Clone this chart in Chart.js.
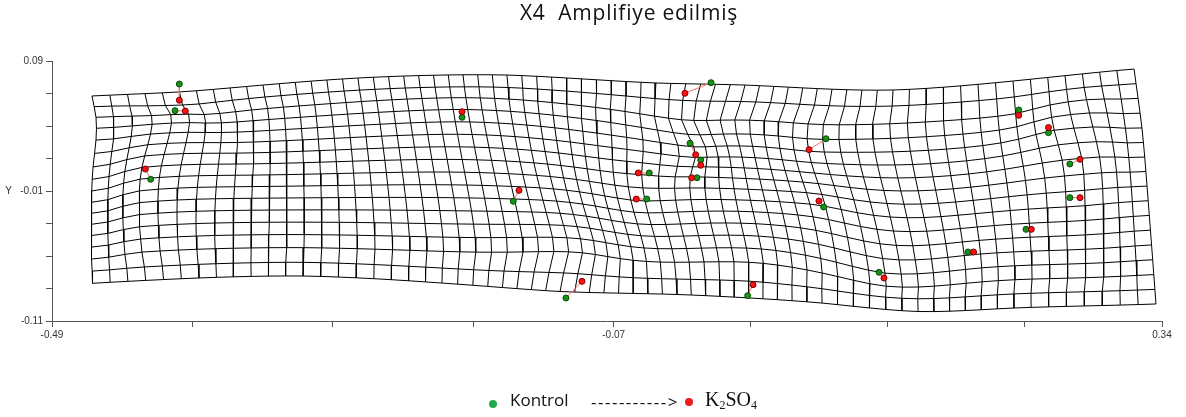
<!DOCTYPE html>
<html><head><meta charset="utf-8">
<script src="https://cdn.jsdelivr.net/npm/chart.js@4.4.1/dist/chart.umd.min.js"></script>
<style>
html,body{margin:0;padding:0;background:#fff;}
#wrap{position:relative;width:1186px;height:417px;overflow:hidden;background:#fff;}
#c{position:absolute;left:0;top:0;}
.t{position:absolute;white-space:pre;line-height:1;}
.dot{position:absolute;width:8px;height:8px;border-radius:50%;}
.sub{font-size:12px;position:relative;top:3px;}
</style></head><body>
<div id="wrap">
<canvas id="c" width="1186" height="417"></canvas>
<div class="t" style="left:629px;top:1.5px;transform:translateX(-50%);font-family:'Open Sans';font-size:21px;letter-spacing:0.8px;color:#111;">X4  Amplifiye edilmiş</div>
<div class="dot" style="left:489px;top:400px;background:#22a84a;"></div>
<div class="t" style="left:510px;top:391px;font-family:'Open Sans';font-size:17px;color:#111;">Kontrol</div>
<div class="t" style="left:591px;top:393px;font-family:'Open Sans';font-size:17px;letter-spacing:1.5px;color:#111;">-----------&gt;</div>
<div class="dot" style="left:685px;top:398px;background:#ee1c1c;"></div>
<div class="t" style="left:705px;top:389px;font-family:'Liberation Serif';font-size:20px;color:#111;">K<span class="sub">2</span>SO<span class="sub">4</span></div>
</div>
<script>
// ---- axis ticks ----
const xTickValues = [-0.49, -0.385, -0.28, -0.175, -0.07, 0.0325, 0.135, 0.2375, 0.34];
const xTickLabels = ['-0.49', '', '', '', '-0.07', '', '', '', '0.34'];
const yTickValues = [0.09, 0.065, 0.04, 0.015, -0.01, -0.035, -0.06, -0.085, -0.11];
const yTickLabels = ['0.09', '', '', '', 'Y   -0.01', '', '', '', '-0.11'];

// ---- landmarks (Kontrol -> K2SO4) ----
const kontrolX = [-0.3948, -0.3980, -0.4162, -0.1834, -0.1451, -0.1057, 0.0028, -0.0129, -0.0049, -0.0077, -0.0434, -0.0453, 0.0888, 0.0870, 0.1284, 0.0302, 0.2329, 0.2551, 0.2711, 0.2711, 0.2383, 0.1949];
const kontrolY = [0.0723, 0.0518, -0.0010, 0.0467, -0.0179, -0.0923, 0.0733, 0.0267, 0.0138, 0.0002, 0.0039, -0.0162, 0.0302, -0.0223, -0.0725, -0.0905, 0.0523, 0.0349, 0.0108, -0.0151, -0.0395, -0.0569];
const k2so4X = [-0.3948, -0.3903, -0.4202, -0.1834, -0.1408, -0.0937, -0.0167, -0.0087, -0.0049, -0.0117, -0.0516, -0.0531, 0.0761, 0.0835, 0.1321, 0.0342, 0.2329, 0.2551, 0.2787, 0.2787, 0.2423, 0.1991];
const k2so4Y = [0.0598, 0.0515, 0.0069, 0.0510, -0.0095, -0.0795, 0.0652, 0.0179, 0.0098, 0.0002, 0.0039, -0.0162, 0.0218, -0.0177, -0.0769, -0.0821, 0.0482, 0.0388, 0.0144, -0.0151, -0.0395, -0.0569];

// ---- deformation grid outline (data units) ----
const gridCols = 66, gridRows = 16;
const topEdgeCol = [0, 5, 10, 16, 26, 36, 42, 52, 59, 66];
const topEdgeX = [-0.4601, -0.3947, -0.3322, -0.2612, -0.1498, -0.0384, 0.0282, 0.1389, 0.2286, 0.3191];
const topEdgeY = [0.0631, 0.0662, 0.0715, 0.0769, 0.0792, 0.0731, 0.0715, 0.0677, 0.0746, 0.0838];
const bottomEdgeCol = [0, 6, 12, 20, 28, 36, 46, 52, 58, 66];
const bottomEdgeX = [-0.4597, -0.3801, -0.3023, -0.1984, -0.1101, -0.0227, 0.0858, 0.1576, 0.2293, 0.3355];
const bottomEdgeY = [-0.0810, -0.0769, -0.0754, -0.0808, -0.0873, -0.0896, -0.0962, -0.1027, -0.1000, -0.0969];
const leftEdgeRow = [2, 4, 6, 9, 12];
const leftEdgeX = [-0.4571, -0.4571, -0.4593, -0.4605, -0.4605];
const leftEdgeY = [0.0467, 0.0292, 0.0085, -0.0187, -0.0442];
const rightEdgeRow = [4, 8, 12];
const rightEdgeX = [0.3250, 0.3288, 0.3322];
const rightEdgeY = [0.0385, -0.0062, -0.0515];
const amplification = 0.8;

// ---- thin-plate spline helpers ----
function solve(A, B) {
  const m = A.length, k = B.length;
  const M = A.map((row, i) => [...row, ...B.map(col => col[i])]);
  for (let c = 0; c < m; c++) {
    let piv = c;
    for (let r = c + 1; r < m; r++) if (Math.abs(M[r][c]) > Math.abs(M[piv][c])) piv = r;
    const tmp = M[c]; M[c] = M[piv]; M[piv] = tmp;
    const d = M[c][c];
    for (let r = 0; r < m; r++) {
      if (r === c) continue;
      const f = M[r][c] / d;
      if (f === 0) continue;
      for (let q = c; q < m + k; q++) M[r][q] -= f * M[c][q];
    }
  }
  return B.map((_, t) => M.map((row, i) => row[m + t] / row[i]));
}
function kern(dx, dy) { const r2 = dx * dx + dy * dy; return r2 > 1e-24 ? 0.5 * r2 * Math.log(r2) : 0; }
function makeTps(sx, sy, fields) {
  const n = sx.length, m = n + 3, A = [];
  for (let i = 0; i < n; i++) {
    const row = new Array(m).fill(0);
    for (let j = 0; j < n; j++) row[j] = kern(sx[i] - sx[j], sy[i] - sy[j]);
    row[n] = 1; row[n + 1] = sx[i]; row[n + 2] = sy[i];
    A.push(row);
  }
  for (let t = 0; t < 3; t++) {
    const row = new Array(m).fill(0);
    for (let j = 0; j < n; j++) row[j] = t === 0 ? 1 : (t === 1 ? sx[j] : sy[j]);
    A.push(row);
  }
  const sol = solve(A, fields.map(f => [...f, 0, 0, 0]));
  return (x, y) => sol.map(w => {
    let s = w[n] + w[n + 1] * x + w[n + 2] * y;
    for (let j = 0; j < n; j++) s += w[j] * kern(x - sx[j], y - sy[j]);
    return s;
  });
}

// base (outline) mapping: grid index -> data
const CU = 16, CV = 13;
const bu = [], bv = [], bx = [], by = [];
topEdgeCol.forEach((c, i) => { bu.push(c * CU); bv.push(0); bx.push(topEdgeX[i]); by.push(topEdgeY[i]); });
bottomEdgeCol.forEach((c, i) => { bu.push(c * CU); bv.push(gridRows * CV); bx.push(bottomEdgeX[i]); by.push(bottomEdgeY[i]); });
leftEdgeRow.forEach((r, i) => { bu.push(0); bv.push(r * CV); bx.push(leftEdgeX[i]); by.push(leftEdgeY[i]); });
rightEdgeRow.forEach((r, i) => { bu.push(gridCols * CU); bv.push(r * CV); bx.push(rightEdgeX[i]); by.push(rightEdgeY[i]); });
const baseT = makeTps(bu, bv, [bx, by]);
const base = (u, v) => baseT(u * CU, v * CV);

// landmark displacement field (zero far outside the outline)
const dsx = [], dsy = [], ddx = [], ddy = [];
kontrolX.forEach((x, i) => { dsx.push(x); dsy.push(kontrolY[i]); ddx.push(k2so4X[i] - x); ddy.push(k2so4Y[i] - kontrolY[i]); });
for (let c = -6; c <= gridCols + 6; c += 6) for (const r of [-3, gridRows + 3]) { const p = base(c, r); dsx.push(p[0]); dsy.push(p[1]); ddx.push(0); ddy.push(0); }
for (let r = 1; r < gridRows; r += 4) for (const c of [-5, gridCols + 5]) { const p = base(c, r); dsx.push(p[0]); dsy.push(p[1]); ddx.push(0); ddy.push(0); }
const disp = makeTps(dsx, dsy, [ddx, ddy]);

// keep the outline as read: fade the landmark field out towards the border
const ease = t => t >= 1 ? 1 : (t <= 0 ? 0 : t * t * (3 - 2 * t));
const fade = (u, v) => ease(u / 3) * ease((gridCols - u) / 3) * ease(v / 2.5) * ease((gridRows - v) / 2.5);

const nodes = [];
for (let j = 0; j <= gridRows; j++) {
  const row = [];
  for (let i = 0; i <= gridCols; i++) {
    const p = base(i, j), d = disp(p[0], p[1]), w = amplification * fade(i, j);
    row.push({ x: p[0] + w * d[0], y: p[1] + w * d[1] });
  }
  nodes.push(row);
}

const datasets = [];
const gridStyle = { showLine: true, pointRadius: 0, borderColor: '#000', borderWidth: 1, tension: 0, order: 5, fill: false };
for (let j = 0; j <= gridRows; j++) datasets.push({ ...gridStyle, data: nodes[j] });
for (let i = 0; i <= gridCols; i++) datasets.push({ ...gridStyle, data: nodes.map(r => r[i]) });
kontrolX.forEach((x, i) => datasets.push({ showLine: true, pointRadius: 0, borderColor: '#ff6b6b', borderWidth: 1, order: 3,
  data: [{ x: x, y: kontrolY[i] }, { x: k2so4X[i], y: k2so4Y[i] }] }));
datasets.push({ label: 'Kontrol', showLine: false, pointRadius: 3, pointBackgroundColor: '#149414', pointBorderColor: '#0a4a0a', pointBorderWidth: 1, order: 2,
  data: kontrolX.map((x, i) => ({ x: x, y: kontrolY[i] })) });
datasets.push({ label: 'K2SO4', showLine: false, pointRadius: 3, pointBackgroundColor: '#ff1010', pointBorderColor: '#7a0000', pointBorderWidth: 1, order: 1,
  data: k2so4X.map((x, i) => ({ x: x, y: k2so4Y[i] })) });

const tickFont = { family: "'Liberation Sans', Arial, sans-serif", size: 10 };
new Chart(document.getElementById('c'), {
  type: 'scatter',
  data: { datasets },
  options: {
    animation: false, responsive: false, maintainAspectRatio: false,
    layout: { padding: { left: 0, right: 24, top: 61, bottom: 0 } },
    plugins: { legend: { display: false }, tooltip: { enabled: false }, title: { display: false } },
    scales: {
      x: {
        type: 'linear', min: -0.49, max: 0.34, position: 'bottom',
        afterBuildTicks: s => { s.ticks = xTickValues.map(v => ({ value: v })); },
        afterFit: s => { s.height = 96; },
        ticks: { autoSkip: false, maxRotation: 0, padding: 2, color: '#333', font: tickFont, callback: (v, i) => xTickLabels[i] },
        grid: { display: true, drawOnChartArea: false, drawTicks: true, tickLength: 6, color: '#555', lineWidth: 1 },
        border: { display: true, color: '#555', width: 1 }
      },
      y: {
        type: 'linear', min: -0.11, max: 0.09, position: 'left',
        afterBuildTicks: s => { s.ticks = yTickValues.map(v => ({ value: v })); },
        afterFit: s => { s.width = 52; },
        ticks: { autoSkip: false, padding: 3, color: '#333', font: tickFont, callback: (v, i) => yTickLabels[i] },
        grid: { display: true, drawOnChartArea: false, drawTicks: true, tickLength: 6, color: '#555', lineWidth: 1 },
        border: { display: true, color: '#555', width: 1 }
      }
    }
  }
});
</script>
</body></html>
